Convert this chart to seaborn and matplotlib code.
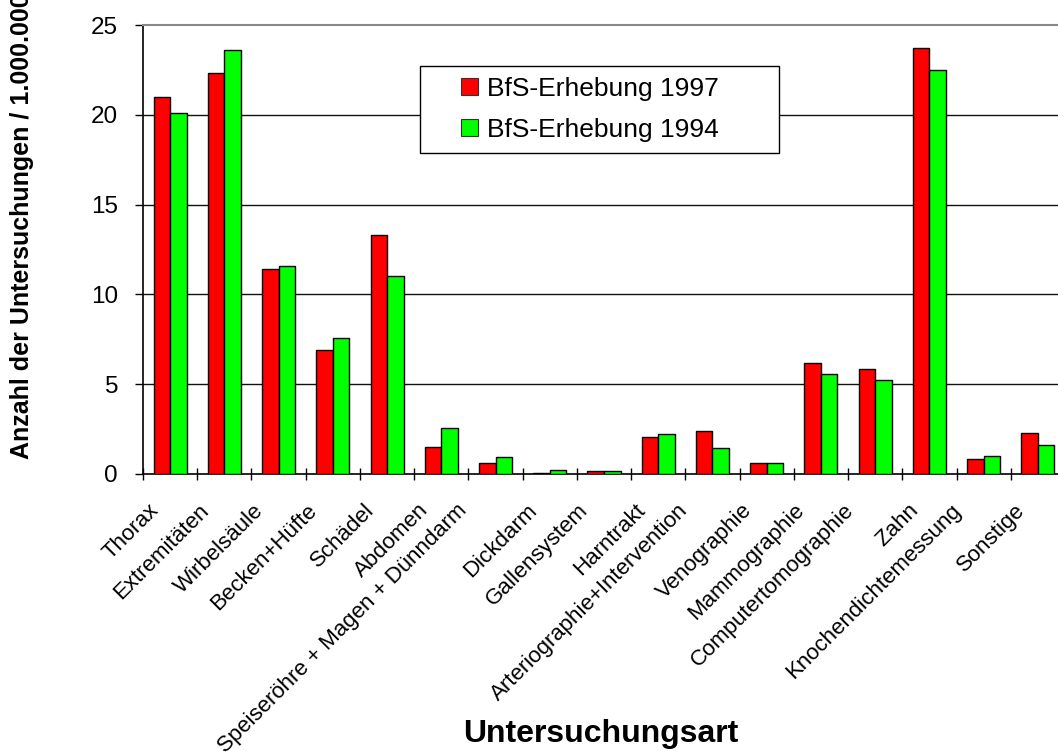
import matplotlib
matplotlib.use("Agg")
import matplotlib.pyplot as plt
import matplotlib.transforms as mtransforms
from matplotlib.patches import Rectangle
from matplotlib.legend_handler import HandlerPatch
import seaborn as sns
import pandas as pd

categories = ["Thorax", "Extremitäten", "Wirbelsäule", "Becken+Hüfte", "Schädel",
              "Abdomen", "Speiseröhre + Magen + Dünndarm", "Dickdarm", "Gallensystem",
              "Harntrakt", "Arteriographie+Intervention", "Venographie", "Mammographie",
              "Computertomographie", "Zahn", "Knochendichtemessung", "Sonstige"]
values_1997 = [21.0, 22.3, 11.4, 6.9, 13.3, 1.5, 0.6, 0.07, 0.18, 2.05, 2.4, 0.6,
               6.2, 5.85, 23.7, 0.85, 2.27]
values_1994 = [20.1, 23.6, 11.6, 7.6, 11.0, 2.55, 0.95, 0.25, 0.18, 2.2, 1.45, 0.6,
               5.55, 5.25, 22.5, 1.0, 1.6]
series_names = ["BfS-Erhebung 1997", "BfS-Erhebung 1994"]
yticks = [0, 5, 10, 15, 20, 25]
x_title = "Untersuchungsart"
y_title = "Anzahl der Untersuchungen / 1.000.000"

df = pd.DataFrame({
    "Art": categories * 2,
    "Wert": values_1997 + values_1994,
    "Serie": [series_names[0]] * len(categories) + [series_names[1]] * len(categories),
})

sns.set_theme(style="white")
plt.rcParams["font.family"] = ["Liberation Sans", "DejaVu Sans"]
plt.rcParams["text.color"] = "black"
plt.rcParams["axes.labelcolor"] = "black"
plt.rcParams["xtick.color"] = "black"
plt.rcParams["ytick.color"] = "black"

W, H = 1058, 755
fig = plt.figure(figsize=(W / 100, H / 100), dpi=100)
ax = fig.add_axes([143 / W, (H - 474) / H, (1065 - 143) / W, (474 - 25) / H])

sns.barplot(data=df, x="Art", y="Wert", hue="Serie", order=categories,
            hue_order=series_names, palette=["#FF0000", "#00FF00"],
            width=0.61, gap=0, edgecolor="black", linewidth=1.0,
            saturation=1, ax=ax, legend=True, zorder=3)

ax.set_xlim(-0.5, len(categories) - 0.5)
ax.set_ylim(0, 25)
ax.set_yticks(yticks)
ax.set_yticklabels([str(v) for v in yticks], fontsize=17.5)
ax.tick_params(axis="y", direction="out", length=6, width=1, color="black",
               labelcolor="black", pad=12, left=True)

# gridlines
for v in yticks[1:-1]:
    ax.axhline(v, color="#111111", linewidth=1.0, zorder=1)

# x ticks: labels at centers, tick marks at boundaries
ax.set_xticks(range(len(categories)))
ax.set_xticklabels(categories, fontsize=16, rotation=45, ha="right",
                   va="center", rotation_mode="anchor")
ax.tick_params(axis="x", which="major", length=0, pad=24, labelcolor="black")
ax.set_xticks([i - 0.5 for i in range(len(categories) + 1)], minor=True)
ax.tick_params(axis="x", which="minor", direction="inout", length=8, width=1,
               color="black", bottom=True)

for s in ["left", "bottom"]:
    ax.spines[s].set_color("black")
    ax.spines[s].set_linewidth(1.2)
ax.spines["top"].set_color("#888888")
ax.spines["top"].set_linewidth(1.5)
ax.spines["right"].set_visible(False)

ax.set_xlabel(x_title, fontsize=23, fontweight="bold", color="black")
ax.xaxis.set_label_coords(0.497, -0.545)
ax.set_ylabel(y_title, fontsize=18, fontweight="bold", color="black")
ax.yaxis.set_label_coords(-0.118, 0.552)

# legend
fs_pt = 19
fs_px = fs_pt * 100 / 72
sq = 17 * 72 / 100


def square(legend, orig_handle, xdescent, ydescent, width, height, fontsize):
    return Rectangle((-xdescent + width - sq, -ydescent + (height - sq) / 2), sq, sq)


handles, labels = ax.get_legend_handles_labels()
leg = ax.legend(handles, labels, loc="upper left",
                bbox_to_anchor=(420 / W, (H - 156) / H, 359 / W, 90 / H),
                bbox_transform=fig.transFigure, mode="expand", borderaxespad=0,
                fontsize=fs_pt, frameon=True, fancybox=False, framealpha=1,
                edgecolor="black", borderpad=0.4, labelspacing=0.66,
                handlelength=47 / fs_px, handleheight=0.7, handletextpad=0.35,
                handler_map={Rectangle: HandlerPatch(patch_func=square)})
leg.get_frame().set_linewidth(1.0)
leg.set_zorder(5)
for p in leg.get_patches():
    p.set_edgecolor("#333333")
    p.set_linewidth(0.8)
for t in leg.get_texts():
    t.set_color("black")

# shift rotated category labels left, more for longer labels (as in reference)
fig.canvas.draw()
renderer = fig.canvas.get_renderer()
for lab in ax.get_xticklabels():
    dx = lab.get_window_extent(renderer).width
    shift = -(9.0 + 0.09 * dx)
    lab.set_transform(lab.get_transform() +
                      mtransforms.ScaledTranslation(shift / 100, 0, fig.dpi_scale_trans))

fig.savefig("out.png", dpi=100)
